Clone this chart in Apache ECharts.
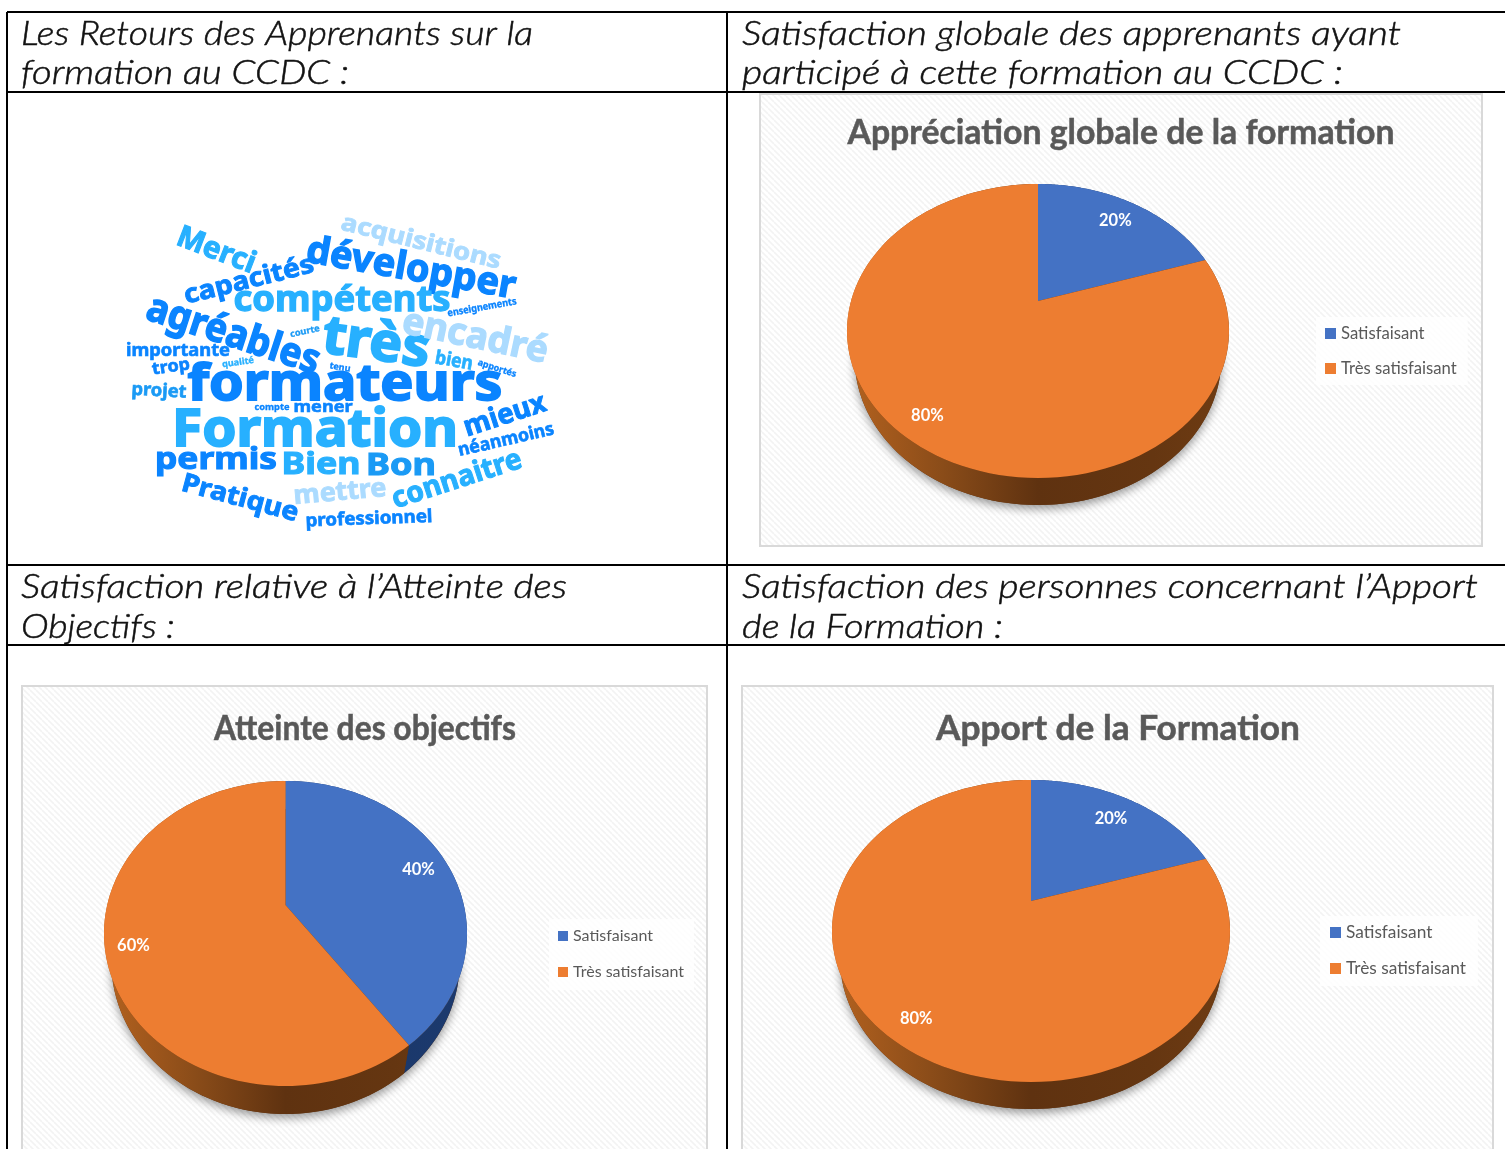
<!DOCTYPE html>
<html>
<head>
<meta charset="utf-8">
<title>Retours des apprenants</title>
<style>
html, body { margin: 0; padding: 0; background: #fff; }
#container { width: 1505px; height: 1149px; }
</style>
<script src="https://cdn.jsdelivr.net/npm/echarts@6/dist/echarts.min.js"></script>
</head>
<body>
<div id="container"></div>
<script>
var categories = ["Satisfaisant", "Très satisfaisant"];
var appreciationValues = [20, 80];
var objectifsValues = [40, 60];
var apportValues = [20, 80];

var pieTitles = ["Appréciation globale de la formation", "Atteinte des objectifs", "Apport de la Formation"];

var headerTexts = [
    "Les Retours des Apprenants sur la",
    "formation au CCDC :",
    "Satisfaction globale des apprenants ayant",
    "participé à cette formation au CCDC :",
    "Satisfaction relative à l’Atteinte des",
    "Objectifs :",
    "Satisfaction des personnes concernant l’Apport",
    "de la Formation :"
];

var cloudWords = ["acquisitions", "Merci", "développer", "capacités", "compétents", "enseignements", "encadré", "agréables",
    "courte", "très", "importante", "trop", "qualité", "bien", "tenu", "apportés", "projet", "formateurs", "compte", "mener",
    "Formation", "mieux", "néanmoins", "permis", "Bien", "Bon", "connaitre", "Pratique", "mettre", "professionnel"];

// cx, cy, longueur, angle (horaire), taille, couleur
var LIGHT = "#abdbff", MID = "#27b0ff", STRONG = "#0a84ff";
var cloudLayout = [
    [421, 241, 164, 14, 24, LIGHT], [216, 249, 82, 21, 30, MID], [411, 267, 212, 10, 38, STRONG],
    [249, 279, 133, -14, 26, STRONG], [342, 299, 217, 0, 35, MID], [482, 307, 70, -10, 10, STRONG],
    [475, 335, 148, 12, 37, LIGHT], [233, 333, 180, 18, 40, STRONG], [305, 331, 30, -12, 9, "#1a9af5"],
    [376, 341, 108, 8, 54, MID], [178, 350, 104, 0, 17, STRONG], [171, 366, 38, -8, 17, STRONG],
    [238, 362, 32, -8, 9, MID], [454, 360, 38, 10, 19, MID], [340, 367, 21, 10, 9, STRONG],
    [497, 368, 40, 18, 9, STRONG], [159, 390, 55, 3, 18, "#1a9af5"], [345, 382, 315, 0, 51, STRONG],
    [272, 407, 35, 0, 9, STRONG], [323, 406, 59, 0, 16, STRONG], [315, 428, 286, 0, 52, MID],
    [505, 414, 85, -18, 28, STRONG], [506, 439, 98, -13, 18, STRONG], [216, 458, 122, 0, 31, STRONG],
    [321, 463, 79, 0, 31, MID], [401, 464, 70, 0, 31, "#1a9af5"], [457, 478, 135, -18, 29, MID],
    [240, 497, 120, 15, 26, STRONG], [340, 491, 93, -5, 26, LIGHT], [369, 518, 127, -2, 18, STRONG]
];

var BLUE = "#4472c4", ORANGE = "#ed7d31";
var sliceColors = [BLUE, ORANGE];
var wallStops = [
    [{ offset: 0, color: "#16305f" }, { offset: 1, color: "#1c3a6e" }],
    [{ offset: 0, color: "#b4621f" }, { offset: 0.25, color: "#8a4c19" }, { offset: 0.5, color: "#5f3210" }, { offset: 0.8, color: "#653611" }, { offset: 1, color: "#6f3c13" }]
];

var pies = [
    { values: appreciationValues, cx: 1038, cy: 331, rx: 191, ry: 147, apexY: 301, depth: 27, labelK: [0.82, 0.84] },
    { values: objectifsValues, cx: 285.5, cy: 933.5, rx: 181.5, ry: 152.5, apexY: 905, depth: 28, labelK: [0.83, 0.845] },
    { values: apportValues, cx: 1031, cy: 931, rx: 199, ry: 151, apexY: 901, depth: 27, labelK: [0.81, 0.84] }
];

var panels = [
    { x: 760, y: 94, width: 722, height: 452 },
    { x: 22, y: 686, width: 685, height: 480 },
    { x: 742, y: 686, width: 751, height: 480 }
];

var measureCtx = document.createElement("canvas").getContext("2d");

function fitText(str, width, font) {
    measureCtx.font = font;
    return width / measureCtx.measureText(str).width;
}

function stripePattern() {
    var c = document.createElement("canvas");
    c.width = 6;
    c.height = 6;
    var ctx = c.getContext("2d");
    ctx.fillStyle = "#ffffff";
    ctx.fillRect(0, 0, 6, 6);
    ctx.strokeStyle = "#f3f3f3";
    ctx.lineWidth = 1.6;
    for (var i = -6; i <= 12; i += 6) {
        ctx.beginPath();
        ctx.moveTo(i, 0);
        ctx.lineTo(i + 6, 6);
        ctx.stroke();
    }
    return { image: c, repeat: "repeat" };
}

// part = 0..1 tourne depuis le haut, sens horaire. La perspective deplace le centre vers apexY
function piePoint(pie, part) {
    var a = (pie.cy - pie.apexY) / pie.ry;
    var ang = part * Math.PI * 2;
    var u = Math.sin(ang), v = Math.cos(ang);
    var d = 1 + a * v;
    return { X: u * Math.sqrt(1 - a * a) / d, Y: (v + a) / d };
}

function topPoint(pie, part) {
    var p = piePoint(pie, part);
    return [pie.cx + p.X * pie.rx, pie.cy - p.Y * pie.ry];
}

function bottomPoint(pie, part) {
    var p = piePoint(pie, part);
    return [pie.cx + p.X * pie.rx * 0.96, pie.cy + pie.depth - p.Y * pie.ry];
}

function renderSlice(pie, idx) {
    return function (params, api) {
        var total = 0, before = 0;
        pie.values.forEach(function (v, i) {
            total += v;
            if (i < idx) before += v;
        });
        var start = before / total;
        var end = (before + api.value(0)) / total;
        var arc = [], low = [], steps = 120;
        for (var s = 0; s <= steps; s++) {
            var part = start + (end - start) * s / steps;
            arc.push(topPoint(pie, part));
            low.unshift(bottomPoint(pie, part));
        }
        var children = [];
        if (idx == 0) {
            var base = [];
            for (var b = 0; b < 180; b++) base.push(bottomPoint(pie, b / 180));
            children.push({
                type: "polygon", z2: 1, shape: { points: base },
                style: { fill: "#5f3210", shadowBlur: 10, shadowOffsetY: 4, shadowColor: "rgba(0,0,0,0.4)" }
            });
        }
        children.push({
            type: "polygon", z2: 2, shape: { points: arc.concat(low) },
            style: { fill: new echarts.graphic.LinearGradient(pie.cx - pie.rx, 0, pie.cx + pie.rx, 0, wallStops[idx], true) }
        });
        children.push({
            type: "polygon", z2: 3, shape: { points: [[pie.cx, pie.apexY]].concat(arc) },
            style: { fill: sliceColors[idx] }
        });
        var mid = topPoint(pie, (start + end) / 2);
        children.push({
            type: "text", z2: 4,
            style: {
                text: Math.round(api.value(0) / total * 100) + "%",
                x: pie.cx + (mid[0] - pie.cx) * pie.labelK[idx],
                y: pie.apexY + (mid[1] - pie.apexY) * pie.labelK[idx],
                align: "center", verticalAlign: "middle",
                font: "bold 16.5px Lato", fill: "#ffffff"
            }
        });
        return { type: "group", children: children };
    };
}

function buildSeries() {
    var list = [];
    pies.forEach(function (pie) {
        categories.forEach(function (name, idx) {
            list.push({
                type: "custom",
                name: name,
                coordinateSystem: "none",
                itemStyle: { color: sliceColors[idx] },
                data: [[pie.values[idx]]],
                renderItem: renderSlice(pie, idx),
                silent: true
            });
        });
    });
    return list;
}

function buildLegend(left, top, fontSize, itemGap, iconSize, padding) {
    return {
        data: categories, orient: "vertical", left: left, top: top, padding: padding,
        itemWidth: iconSize, itemHeight: iconSize, itemGap: itemGap, icon: "rect", selectedMode: false,
        backgroundColor: "rgba(255,255,255,0.8)",
        textStyle: { fontFamily: "Lato", fontSize: fontSize, color: "#595959" }
    };
}

function buildGraphic() {
    var els = [];
    var pattern = stripePattern();
    panels.forEach(function (p) {
        els.push({
            type: "rect", shape: { x: p.x, y: p.y, width: p.width, height: p.height },
            style: { fill: pattern, stroke: "#d9d9d9", lineWidth: 2 }
        });
    });

    // lignes du tableau
    var rules = [[7, 12, 1505, 12], [7, 92, 1505, 92], [7, 565, 1505, 565], [7, 645, 1505, 645], [7, 12, 7, 1149], [727, 12, 727, 1149]];
    rules.forEach(function (r) {
        els.push({ type: "line", shape: { x1: r[0], y1: r[1], x2: r[2], y2: r[3] }, style: { stroke: "#000", lineWidth: 2 } });
    });

    // x, y, largeur de chaque entete
    var headerBoxes = [[21, 34, 512], [21, 73, 328], [742, 34, 659], [742, 73, 601], [21, 587, 546], [21, 627, 154], [742, 587, 736], [742, 627, 261]];
    headerTexts.forEach(function (txt, i) {
        var b = headerBoxes[i];
        var font = "italic 300 33px Lato";
        els.push({
            type: "text", x: b[0], y: b[1], scaleX: fitText(txt, b[2], font),
            style: { text: txt, x: 0, y: 0, font: font, fill: "#111111", stroke: "#111111", lineWidth: 0.5, align: "left", verticalAlign: "middle" }
        });
    });

    var titleBoxes = [[1121, 133, 547], [365, 729, 302], [1118, 729, 364]];
    pieTitles.forEach(function (txt, i) {
        var b = titleBoxes[i];
        var font = "bold 34px Lato";
        els.push({
            type: "text", x: b[0], y: b[1], scaleX: fitText(txt, b[2], font),
            style: { text: txt, x: 0, y: 0, font: font, fill: "#595959", stroke: "#595959", lineWidth: 0.5, align: "center", verticalAlign: "middle" }
        });
    });

    cloudWords.forEach(function (word, i) {
        var w = cloudLayout[i];
        var font = "bold " + w[4] + "px 'Noto Sans'";
        els.push({
            type: "text", x: w[0], y: w[1] + w[4] * 0.06, rotation: -w[3] * Math.PI / 180, scaleX: fitText(word, w[2], font),
            z2: 100 - w[4],
            style: {
                text: word, x: 0, y: 0, font: font, fill: w[5], stroke: w[5], lineWidth: w[4] / 28,
                lineJoin: "round", align: "center", verticalAlign: "middle"
            }
        });
    });
    return els;
}

var myChart = echarts.init(document.getElementById("container"));
myChart.setOption({
    animation: false,
    backgroundColor: "#ffffff",
    legend: [
        buildLegend(1316, 317, 16.7, 18, 11, [8, 11, 8, 9]),
        buildLegend(549, 919, 16, 20, 10, [9, 10, 10, 9]),
        buildLegend(1320, 916, 17.3, 19, 11, [8, 12, 9, 10])
    ],
    graphic: buildGraphic(),
    series: buildSeries()
});
</script>
</body>
</html>
